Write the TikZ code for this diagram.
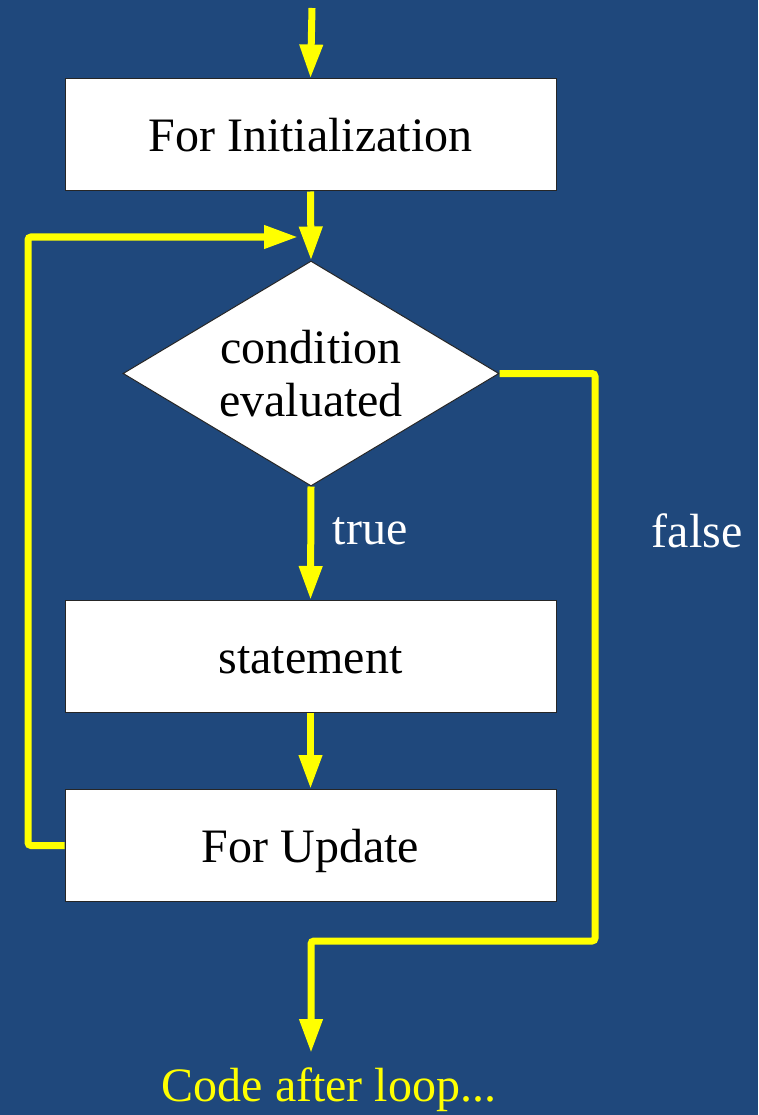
\documentclass[tikz,border=0pt]{standalone}
\usepackage{fontspec}
\setmainfont{Liberation Serif}
\usetikzlibrary{arrows.meta, shapes.geometric}

\definecolor{slideblue}{RGB}{31,72,124}
\definecolor{flowyellow}{RGB}{255,255,0}

\tikzset{
  box/.style={draw=black!85, line width=1pt, fill=white, minimum width=491pt,
    minimum height=112pt, inner sep=0pt, text height=34pt, text depth=0pt,
    font=\fontsize{48}{53}\selectfont},
  decision/.style={diamond, draw=black!85, line width=1pt, fill=white, inner sep=0pt,
    aspect=1.67, minimum width=376pt, minimum height=225pt, align=center,
    font=\fontsize{48}{53}\selectfont},
  flow/.style={draw=flowyellow, line width=7pt, rounded corners=3pt,
    -{Triangle[length=34pt, width=22pt]}},
  label/.style={text=white, font=\fontsize{48}{53}\selectfont}
}

\begin{document}
\begin{tikzpicture}[x=1pt, y=-1pt]
  \fill [slideblue] (0,0) rectangle (758,1115);
  \useasboundingbox (0,0) rectangle (758,1115);

  \coordinate (start) at (312,8);
  \node (init) at (310.5,135) [box] {For Initialization};
  \node (cond) at (311,373.5) [decision] {condition\\evaluated};
  \node (stmt) at (310.5,656.5) [box] {statement};
  \node (update) at (310.5,845.5) [box] {For Update};
  \coordinate (loopin) at (298,237);
  \coordinate (exit) at (311,1053);
  \node (after) at (329,1090) [text=flowyellow, font=\fontsize{48}{53}\selectfont] {Code after loop...};

  \draw [flow] (start) -- (init.north);
  \draw [flow] (init.south) -- (cond.north);
  \draw [flow] (cond.south) -- (stmt.north);
  \draw [flow] (stmt.south) -- (update.north);
  \draw [flow] (update.west) -- (28,845.5) -- (28,237) -- (loopin);
  \draw [flow] (cond.east) -- (595,373.5) -- (595,941) -- (311,941) -- (exit);

  \node (truelbl) at (370,531) [label] {true};
  \node (falselbl) at (697,531) [label] {false};
\end{tikzpicture}
\end{document}
